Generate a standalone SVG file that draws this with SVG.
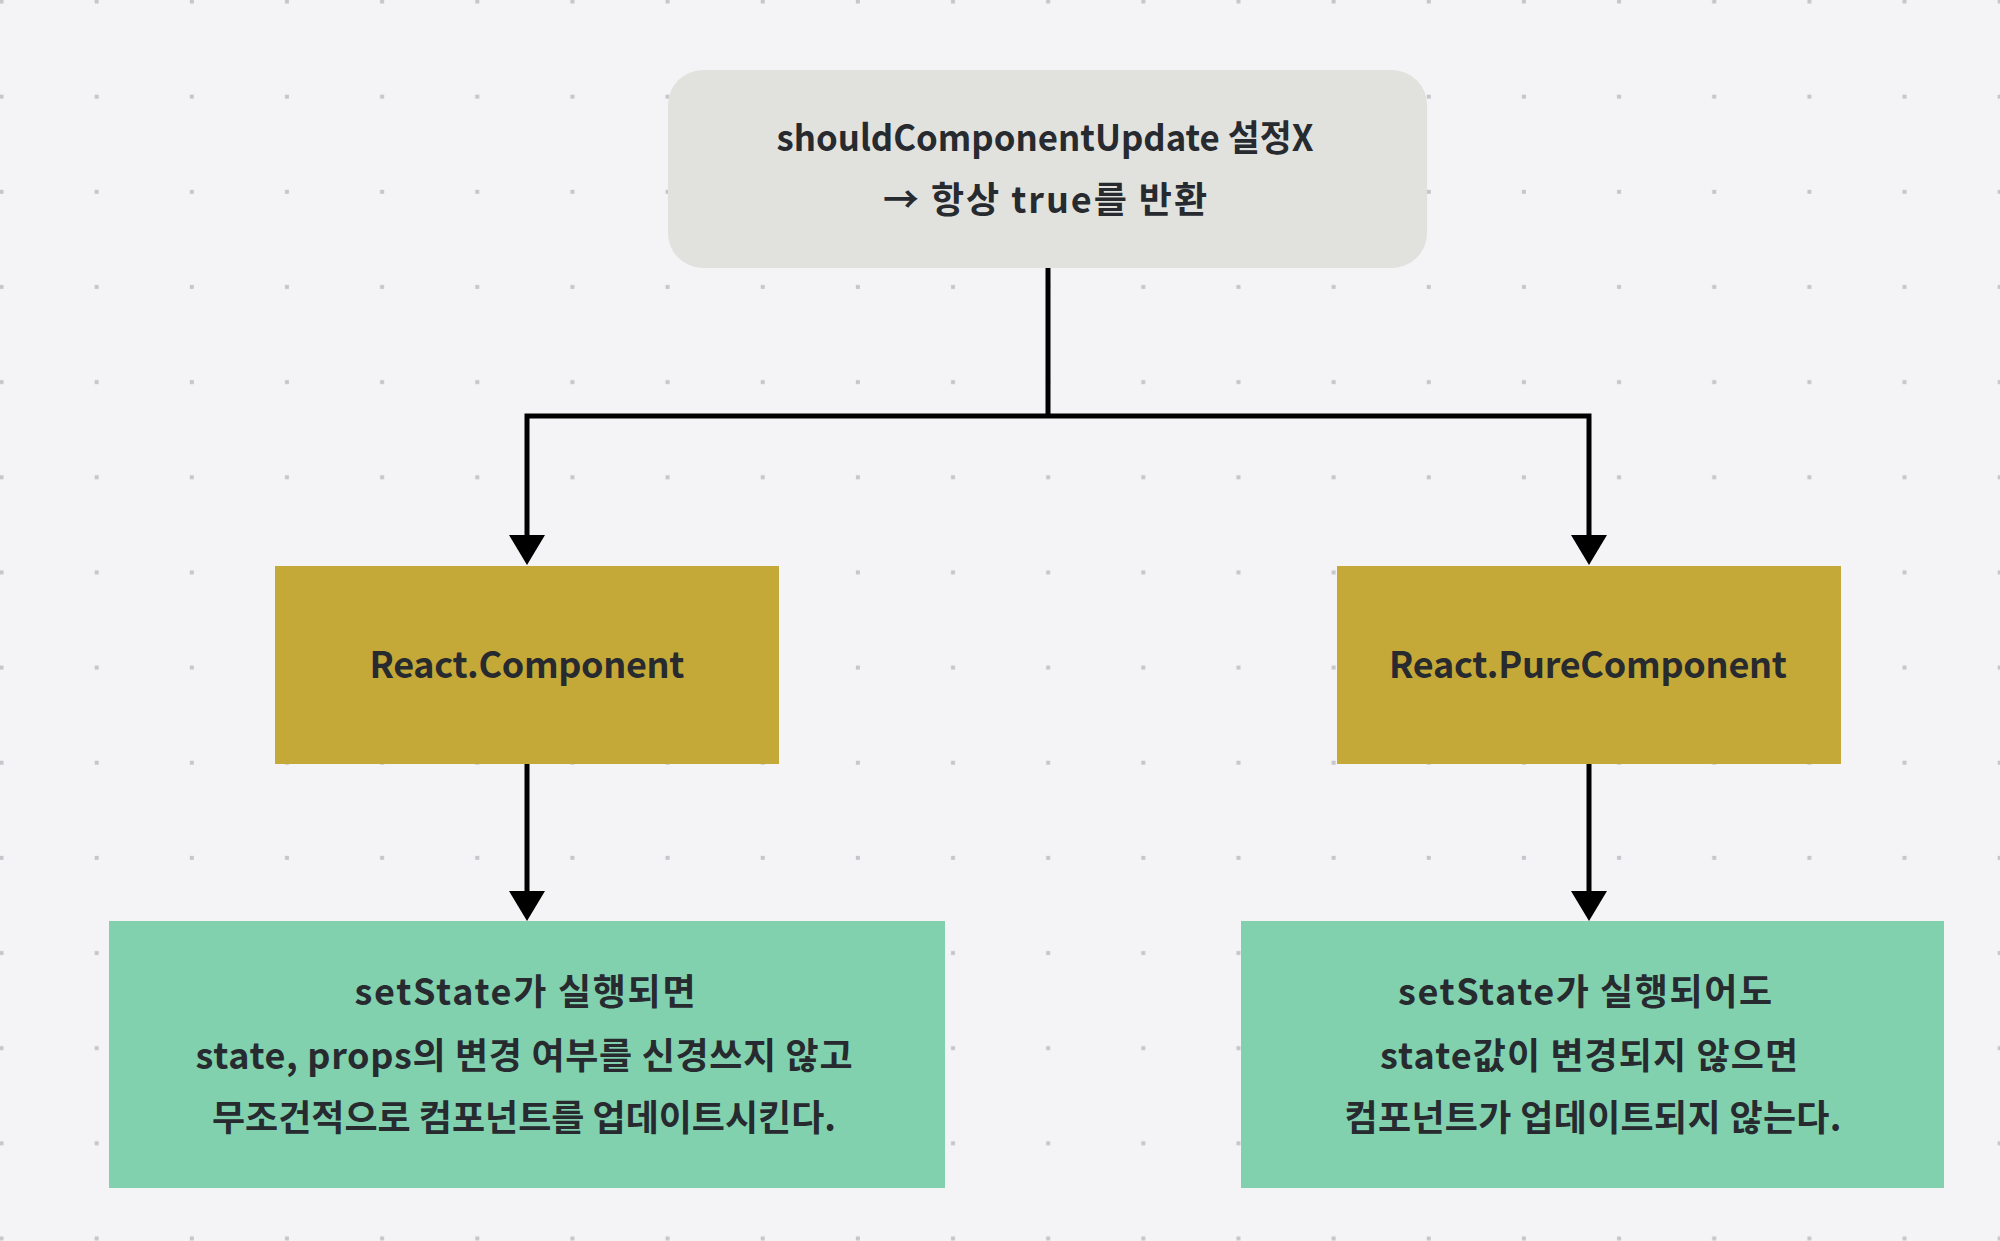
<svg xmlns="http://www.w3.org/2000/svg" width="2000" height="1241" viewBox="0 0 2000 1241">
  <style>
    .lbl { font-family: "Noto Sans CJK KR", "Noto Sans", sans-serif; font-size: 36px; font-weight: 700; fill: #272a2e; text-anchor: middle; }
    .conn { fill: none; stroke: #000000; stroke-width: 5; marker-end: url(#arrow); }
    .line { fill: none; stroke: #000000; stroke-width: 5; }
  </style>
  <defs>
    <pattern id="dots" x="-40" y="-40" width="95.15" height="95.15" patternUnits="userSpaceOnUse">
      <rect x="39.5" y="39.5" width="4" height="4" fill="#c6c6ca"/>
    </pattern>
    <marker id="arrow" viewBox="0 0 30 36" markerUnits="userSpaceOnUse" markerWidth="30" markerHeight="36" refX="10" refY="18" orient="auto">
      <path d="M0,0 L30,18 L0,36 Z" fill="#000000"/>
    </marker>
  </defs>
  <rect x="0" y="0" width="2000" height="1241" fill="#f4f4f6"/>
  <rect x="0" y="0" width="2000" height="1241" fill="url(#dots)"/>

  <g id="connectors">
    <path class="line" d="M1048,268 V416"/>
    <path class="conn" d="M1048,416 H527 V545"/>
    <path class="conn" d="M1048,416 H1589 V545"/>
    <path class="conn" d="M527,764 V901"/>
    <path class="conn" d="M1589,764 V901"/>
  </g>

  <g id="node-should">
    <rect x="668" y="70" width="759" height="198" rx="35" ry="35" fill="#e1e2de"/>
    <text class="lbl" x="1045" y="151" textLength="537" lengthAdjust="spacingAndGlyphs">shouldComponentUpdate 설정X</text>
    <text class="lbl" x="1045" y="213" textLength="324" lengthAdjust="spacing">→ 항상 true를 반환</text>
  </g>

  <g id="node-component">
    <rect x="275" y="566" width="504" height="198" fill="#c5a938"/>
    <text class="lbl" x="527" y="678" textLength="315" lengthAdjust="spacing">React.Component</text>
  </g>

  <g id="node-pure">
    <rect x="1337" y="566" width="504" height="198" fill="#c5a938"/>
    <text class="lbl" x="1588" y="678" textLength="398" lengthAdjust="spacing">React.PureComponent</text>
  </g>

  <g id="node-component-desc">
    <rect x="109" y="921" width="836" height="267" fill="#81d1ae"/>
    <text class="lbl" x="525" y="1005" textLength="341" lengthAdjust="spacing">setState가 실행되면</text>
    <text class="lbl" x="524" y="1069" textLength="657" lengthAdjust="spacing">state, props의 변경 여부를 신경쓰지 않고</text>
    <text class="lbl" x="524" y="1131" textLength="624" lengthAdjust="spacing">무조건적으로 컴포넌트를 업데이트시킨다.</text>
  </g>

  <g id="node-pure-desc">
    <rect x="1241" y="921" width="703" height="267" fill="#81d1ae"/>
    <text class="lbl" x="1585" y="1005" textLength="374" lengthAdjust="spacing">setState가 실행되어도</text>
    <text class="lbl" x="1589" y="1069" textLength="418" lengthAdjust="spacing">state값이 변경되지 않으면</text>
    <text class="lbl" x="1593" y="1131" textLength="497" lengthAdjust="spacing">컴포넌트가 업데이트되지 않는다.</text>
  </g>
</svg>
